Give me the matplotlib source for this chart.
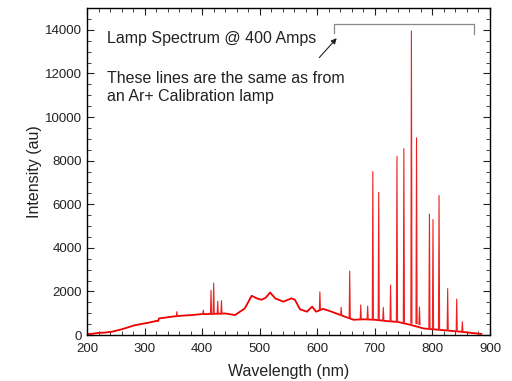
import matplotlib.pyplot as plt
from matplotlib.ticker import MultipleLocator

plt.rcParams['font.family'] = ['Liberation Sans', 'DejaVu Sans']

# continuum (nm, intensity)
cont_nm = [200, 210, 220, 230, 243, 260, 283, 306, 321, 323.5, 325, 347, 361, 382,
           399, 406, 440, 457, 474, 486, 495, 503, 510, 518, 527, 541, 555, 561,
           570, 582, 591, 598, 610, 625, 640, 648, 663, 680, 700, 720, 740, 760,
           785, 820, 850, 870, 885]
cont_int = [40, 60, 100, 110, 150, 260, 450, 560, 650, 640, 760, 840, 880, 915,
            960, 960, 990, 915, 1220, 1800, 1680, 1620, 1700, 1950, 1680, 1530, 1680, 1620,
            1180, 1070, 1300, 1070, 1200, 1070, 920, 840, 700, 720, 700, 640, 600, 480,
            300, 220, 150, 90, 50]

# emission lines: centre, peak height, local background
peak_nm = [356, 402, 415.4, 420, 427, 433.5, 604.5, 641.5, 656.3, 675.5, 687.5,
           696.5, 706.7, 714.7, 727.3, 738.4, 750.4, 763.5, 772.4, 777.5, 794.8,
           801, 811.5, 826.5, 842.2, 852]
peak_int = [1070, 1140, 2060, 2380, 1550, 1580, 1980, 1270, 2930, 1380, 1330,
            7500, 6550, 1270, 2290, 8200, 8550, 13950, 9050, 1280, 5550,
            5300, 6400, 2130, 1650, 610]
peak_base = [870, 960, 970, 970, 970, 970, 1150, 900, 780, 720, 720,
             720, 700, 680, 650, 620, 590, 540, 520, 480, 300,
             280, 250, 220, 170, 150]

fig = plt.figure(figsize=(5.12, 3.81), dpi=100)
ax = fig.add_axes([0.170, 0.1207, 0.787, 0.858])

red = '#ee0000'
ax.plot(cont_nm, cont_int, color=red, lw=1.3)
for c, h, b in zip(peak_nm, peak_int, peak_base):
    ax.plot([c - 1.0, c, c + 1.0], [b, h, b], color='#f02020', lw=0.8)

ax.set_xlim(200, 900)
ax.set_ylim(0, 15000)
ax.xaxis.set_major_locator(MultipleLocator(100))
ax.xaxis.set_minor_locator(MultipleLocator(20))
ax.yaxis.set_major_locator(MultipleLocator(2000))
ax.yaxis.set_minor_locator(MultipleLocator(500))
ax.tick_params(which='both', direction='in', top=True, right=True, labelsize=9.5,
               color='#222222', labelcolor='#222222')
ax.tick_params(which='major', length=5)
ax.tick_params(which='minor', length=3)
ax.tick_params(axis='x', which='major', pad=6)
for s in ax.spines.values():
    s.set_linewidth(1.0)

ax.set_xlabel('Wavelength (nm)', fontsize=11.5, color='#222222', labelpad=6)
ax.set_ylabel('Intensity (au)', fontsize=11.5, color='#222222', labelpad=2)

ax.text(234, 13590, 'Lamp Spectrum @ 400 Amps', fontsize=11.5, va='center', color='#222222')
ax.text(234, 11340, 'These lines are the same as from\nan Ar+ Calibration lamp',
        fontsize=11.5, va='center', linespacing=1.25, color='#222222')

# bracket over the argon lines
ax.plot([629, 629, 872.8, 872.8], [13870, 14290, 14290, 13800], color='#888888', lw=0.9)
ax.annotate('', xy=(633.7, 13620), xytext=(603.5, 12730),
            arrowprops=dict(arrowstyle='-|>', color='#222222', lw=0.8,
                            mutation_scale=8, shrinkA=0, shrinkB=0))

fig.savefig('out.png', dpi=100)
